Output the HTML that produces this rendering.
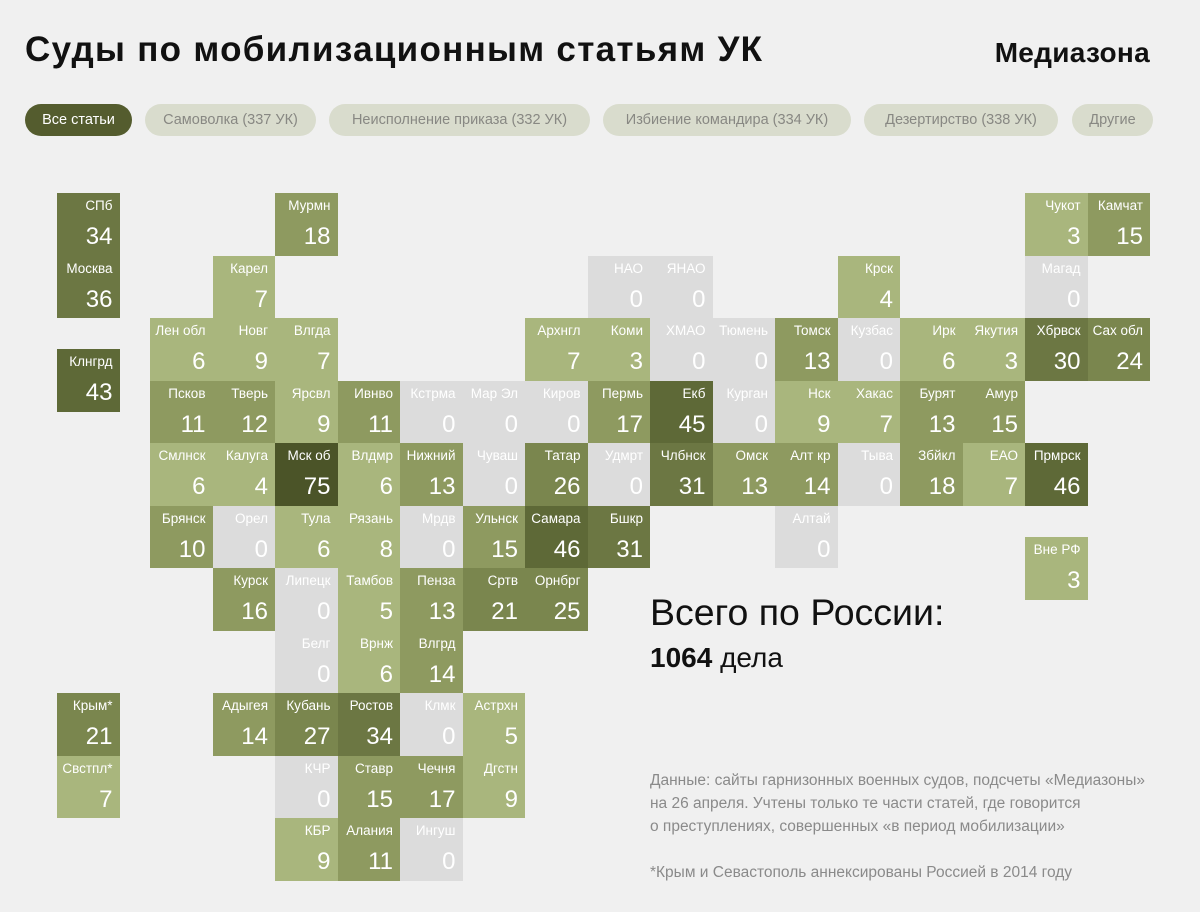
<!DOCTYPE html>
<html><head><meta charset="utf-8"><style>
body{margin:0;width:1200px;height:912px;background:#f0f0f0;font-family:"Liberation Sans",sans-serif;position:relative;overflow:hidden}
h1{position:absolute;left:25px;top:30px;margin:0;font-size:35px;font-weight:bold;color:#111;letter-spacing:1.3px}
.logo{position:absolute;right:50px;top:37px;font-size:28px;font-weight:bold;color:#111;letter-spacing:0.3px}
.b{position:absolute;top:104px;height:32px;line-height:32px;border-radius:16px;background:#d9dccd;color:#888883;font-size:14.5px;text-align:center}
.b.a{background:#545c2e;color:#fff}
.c{position:absolute;width:62.5px;height:62.5px;color:#fff;box-sizing:border-box}
.c i{position:absolute;right:7px;top:5px;font-style:normal;font-size:13.5px}
.c b{position:absolute;right:7px;top:30px;font-weight:normal;font-size:24px}
.z{background:#dcdcdc}.l{background:#a9b67d}.m{background:#8e9a60}.h{background:#7a864e}.d{background:#6c7743}.e{background:#5e6937}.x{background:#4b5428}
.tot{position:absolute;left:650px;top:591px;font-size:37.5px;color:#111}
.tot2{position:absolute;left:650px;top:642px;font-size:28px;color:#111}
.note{position:absolute;left:650px;top:769px;font-size:15.5px;line-height:23px;color:#8a8a8a}
</style></head><body>
<h1>Суды по мобилизационным статьям УК</h1>
<div class="logo">Медиазона</div>
<div class="b a" style="left:25px;width:107px">Все статьи</div>
<div class="b" style="left:145px;width:171px">Самоволка (337 УК)</div>
<div class="b" style="left:329px;width:261px">Неисполнение приказа (332 УК)</div>
<div class="b" style="left:603px;width:248px">Избиение командира (334 УК)</div>
<div class="b" style="left:864px;width:194px">Дезертирство (338 УК)</div>
<div class="b" style="left:1072px;width:81px">Другие</div>

<div class="c d" style="left:57px;top:193px"><i>СПб</i><b>34</b></div>
<div class="c d" style="left:57px;top:255.5px"><i>Москва</i><b>36</b></div>
<div class="c e" style="left:57px;top:349px"><i>Клнгрд</i><b>43</b></div>
<div class="c h" style="left:57px;top:693px"><i>Крым*</i><b>21</b></div>
<div class="c l" style="left:57px;top:755.5px"><i>Свстпл*</i><b>7</b></div>

<div class="c m" style="left:275px;top:193px"><i>Мурмн</i><b>18</b></div>
<div class="c l" style="left:1025px;top:193px"><i>Чукот</i><b>3</b></div>
<div class="c m" style="left:1087.5px;top:193px"><i>Камчат</i><b>15</b></div>

<div class="c l" style="left:212.5px;top:255.5px"><i>Карел</i><b>7</b></div>
<div class="c z" style="left:587.5px;top:255.5px"><i>НАО</i><b>0</b></div>
<div class="c z" style="left:650px;top:255.5px"><i>ЯНАО</i><b>0</b></div>
<div class="c l" style="left:837.5px;top:255.5px"><i>Крск</i><b>4</b></div>
<div class="c z" style="left:1025px;top:255.5px"><i>Магад</i><b>0</b></div>

<div class="c l" style="left:150px;top:318px"><i>Лен обл</i><b>6</b></div>
<div class="c l" style="left:212.5px;top:318px"><i>Новг</i><b>9</b></div>
<div class="c l" style="left:275px;top:318px"><i>Влгда</i><b>7</b></div>
<div class="c l" style="left:525px;top:318px"><i>Архнгл</i><b>7</b></div>
<div class="c l" style="left:587.5px;top:318px"><i>Коми</i><b>3</b></div>
<div class="c z" style="left:650px;top:318px"><i>ХМАО</i><b>0</b></div>
<div class="c z" style="left:712.5px;top:318px"><i>Тюмень</i><b>0</b></div>
<div class="c m" style="left:775px;top:318px"><i>Томск</i><b>13</b></div>
<div class="c z" style="left:837.5px;top:318px"><i>Кузбас</i><b>0</b></div>
<div class="c l" style="left:900px;top:318px"><i>Ирк</i><b>6</b></div>
<div class="c l" style="left:962.5px;top:318px"><i>Якутия</i><b>3</b></div>
<div class="c d" style="left:1025px;top:318px"><i>Хбрвск</i><b>30</b></div>
<div class="c h" style="left:1087.5px;top:318px"><i>Сах обл</i><b>24</b></div>

<div class="c m" style="left:150px;top:380.5px"><i>Псков</i><b>11</b></div>
<div class="c m" style="left:212.5px;top:380.5px"><i>Тверь</i><b>12</b></div>
<div class="c l" style="left:275px;top:380.5px"><i>Ярсвл</i><b>9</b></div>
<div class="c m" style="left:337.5px;top:380.5px"><i>Ивнво</i><b>11</b></div>
<div class="c z" style="left:400px;top:380.5px"><i>Кстрма</i><b>0</b></div>
<div class="c z" style="left:462.5px;top:380.5px"><i>Мар Эл</i><b>0</b></div>
<div class="c z" style="left:525px;top:380.5px"><i>Киров</i><b>0</b></div>
<div class="c m" style="left:587.5px;top:380.5px"><i>Пермь</i><b>17</b></div>
<div class="c e" style="left:650px;top:380.5px"><i>Екб</i><b>45</b></div>
<div class="c z" style="left:712.5px;top:380.5px"><i>Курган</i><b>0</b></div>
<div class="c l" style="left:775px;top:380.5px"><i>Нск</i><b>9</b></div>
<div class="c l" style="left:837.5px;top:380.5px"><i>Хакас</i><b>7</b></div>
<div class="c m" style="left:900px;top:380.5px"><i>Бурят</i><b>13</b></div>
<div class="c m" style="left:962.5px;top:380.5px"><i>Амур</i><b>15</b></div>

<div class="c l" style="left:150px;top:443px"><i>Смлнск</i><b>6</b></div>
<div class="c l" style="left:212.5px;top:443px"><i>Калуга</i><b>4</b></div>
<div class="c x" style="left:275px;top:443px"><i>Мск об</i><b>75</b></div>
<div class="c l" style="left:337.5px;top:443px"><i>Влдмр</i><b>6</b></div>
<div class="c m" style="left:400px;top:443px"><i>Нижний</i><b>13</b></div>
<div class="c z" style="left:462.5px;top:443px"><i>Чуваш</i><b>0</b></div>
<div class="c h" style="left:525px;top:443px"><i>Татар</i><b>26</b></div>
<div class="c z" style="left:587.5px;top:443px"><i>Удмрт</i><b>0</b></div>
<div class="c d" style="left:650px;top:443px"><i>Члбнск</i><b>31</b></div>
<div class="c m" style="left:712.5px;top:443px"><i>Омск</i><b>13</b></div>
<div class="c m" style="left:775px;top:443px"><i>Алт кр</i><b>14</b></div>
<div class="c z" style="left:837.5px;top:443px"><i>Тыва</i><b>0</b></div>
<div class="c m" style="left:900px;top:443px"><i>Збйкл</i><b>18</b></div>
<div class="c l" style="left:962.5px;top:443px"><i>ЕАО</i><b>7</b></div>
<div class="c e" style="left:1025px;top:443px"><i>Прмрск</i><b>46</b></div>

<div class="c m" style="left:150px;top:505.5px"><i>Брянск</i><b>10</b></div>
<div class="c z" style="left:212.5px;top:505.5px"><i>Орел</i><b>0</b></div>
<div class="c l" style="left:275px;top:505.5px"><i>Тула</i><b>6</b></div>
<div class="c l" style="left:337.5px;top:505.5px"><i>Рязань</i><b>8</b></div>
<div class="c z" style="left:400px;top:505.5px"><i>Мрдв</i><b>0</b></div>
<div class="c m" style="left:462.5px;top:505.5px"><i>Ульнск</i><b>15</b></div>
<div class="c e" style="left:525px;top:505.5px"><i>Самара</i><b>46</b></div>
<div class="c d" style="left:587.5px;top:505.5px"><i>Бшкр</i><b>31</b></div>
<div class="c z" style="left:775px;top:505.5px"><i>Алтай</i><b>0</b></div>
<div class="c l" style="left:1025px;top:537px"><i>Вне РФ</i><b>3</b></div>

<div class="c m" style="left:212.5px;top:568px"><i>Курск</i><b>16</b></div>
<div class="c z" style="left:275px;top:568px"><i>Липецк</i><b>0</b></div>
<div class="c l" style="left:337.5px;top:568px"><i>Тамбов</i><b>5</b></div>
<div class="c m" style="left:400px;top:568px"><i>Пенза</i><b>13</b></div>
<div class="c h" style="left:462.5px;top:568px"><i>Сртв</i><b>21</b></div>
<div class="c h" style="left:525px;top:568px"><i>Орнбрг</i><b>25</b></div>

<div class="c z" style="left:275px;top:630.5px"><i>Белг</i><b>0</b></div>
<div class="c l" style="left:337.5px;top:630.5px"><i>Врнж</i><b>6</b></div>
<div class="c m" style="left:400px;top:630.5px"><i>Влгрд</i><b>14</b></div>

<div class="c m" style="left:212.5px;top:693px"><i>Адыгея</i><b>14</b></div>
<div class="c h" style="left:275px;top:693px"><i>Кубань</i><b>27</b></div>
<div class="c d" style="left:337.5px;top:693px"><i>Ростов</i><b>34</b></div>
<div class="c z" style="left:400px;top:693px"><i>Клмк</i><b>0</b></div>
<div class="c l" style="left:462.5px;top:693px"><i>Астрхн</i><b>5</b></div>

<div class="c z" style="left:275px;top:755.5px"><i>КЧР</i><b>0</b></div>
<div class="c m" style="left:337.5px;top:755.5px"><i>Ставр</i><b>15</b></div>
<div class="c m" style="left:400px;top:755.5px"><i>Чечня</i><b>17</b></div>
<div class="c l" style="left:462.5px;top:755.5px"><i>Дгстн</i><b>9</b></div>

<div class="c l" style="left:275px;top:818px"><i>КБР</i><b>9</b></div>
<div class="c m" style="left:337.5px;top:818px"><i>Алания</i><b>11</b></div>
<div class="c z" style="left:400px;top:818px"><i>Ингуш</i><b>0</b></div>

<div class="tot">Всего по России:</div>
<div class="tot2"><b>1064</b> дела</div>
<div class="note">Данные: сайты гарнизонных военных судов, подсчеты «Медиазоны»<br>на 26 апреля. Учтены только те части статей, где говорится<br>о преступлениях, совершенных «в период мобилизации»<br><br>*Крым и Севастополь аннексированы Россией в 2014 году</div>
</body></html>
